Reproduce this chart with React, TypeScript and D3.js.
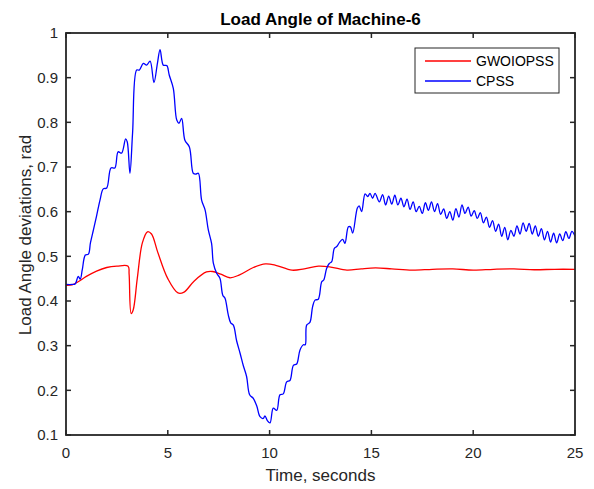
import React from "react";
import * as d3 from "d3";

const title = "Load Angle of Machine-6";
const xLabel = "Time, seconds";
const yLabel = "Load Angle deviations, rad";
const xTicks = [0, 5, 10, 15, 20, 25];
const yTicks = [0.1, 0.2, 0.3, 0.4, 0.5, 0.6, 0.7, 0.8, 0.9, 1];
const seriesNames = ["GWOIOPSS", "CPSS"];
const seriesColors = ["#ff0000", "#0000ff"];

const gwoTime = [0, 0.3, 0.6, 1.0, 1.5, 2.0, 2.5, 3.05, 3.1, 3.2, 3.3, 3.5, 3.75, 4.0, 4.2, 4.5, 5.0, 5.5, 5.8, 6.3, 6.9, 7.2, 7.6, 8.05, 8.5, 9.2, 9.8, 10.3, 11.1, 11.7, 12.4, 13.0, 13.8, 14.5, 15.2, 16, 17, 18, 19, 20, 21, 22, 23, 24, 25];
const gwoValue = [0.435, 0.436, 0.443, 0.455, 0.467, 0.475, 0.478, 0.478, 0.46, 0.372, 0.38, 0.45, 0.53, 0.555, 0.55, 0.51, 0.45, 0.418, 0.42, 0.445, 0.465, 0.466, 0.46, 0.452, 0.458, 0.475, 0.483, 0.48, 0.469, 0.472, 0.478, 0.476, 0.469, 0.472, 0.474, 0.472, 0.469, 0.471, 0.472, 0.469, 0.471, 0.472, 0.47, 0.471, 0.471];

const cpssTime = [0, 0.3, 0.45, 0.6, 0.7, 0.8, 0.95, 1.1, 1.2, 1.35, 1.5, 1.67, 1.83, 2.0, 2.21, 2.4, 2.56, 2.73, 2.93, 3.01, 3.14, 3.27, 3.47, 3.6, 3.8, 3.96, 4.13, 4.32, 4.49, 4.62, 4.78, 4.95, 5.07, 5.27, 5.44, 5.55, 5.68, 5.84, 6.06, 6.25, 6.37, 6.5, 6.66, 6.83, 6.99, 7.15, 7.24, 7.4, 7.56, 7.7, 7.81, 7.97, 8.09, 8.22, 8.38, 8.55, 8.71, 8.87, 9.02, 9.2, 9.37, 9.53, 9.69, 9.77, 9.89, 10.02, 10.18, 10.35, 10.51, 10.67, 10.84, 11.0, 11.17, 11.33, 11.49, 11.66, 11.75, 11.82, 11.98, 12.11, 12.23, 12.39, 12.56, 12.66, 12.8, 12.93, 13.05, 13.18, 13.3, 13.46, 13.59, 13.7, 13.87, 13.97, 14.08, 14.31, 14.4, 14.52, 14.69, 14.82, 14.93, 15.06, 15.18, 15.39, 15.55, 15.7, 15.85, 16.0, 16.15, 16.3, 16.45, 16.6, 16.75, 16.9, 17.05, 17.2, 17.35, 17.5, 17.65, 17.8, 17.95, 18.1, 18.25, 18.4, 18.55, 18.7, 18.85, 19.0, 19.15, 19.3, 19.45, 19.6, 19.75, 19.9, 20.05, 20.2, 20.35, 20.5, 20.65, 20.8, 20.95, 21.1, 21.25, 21.4, 21.55, 21.7, 21.85, 22.0, 22.15, 22.3, 22.45, 22.6, 22.75, 22.9, 23.05, 23.2, 23.35, 23.5, 23.65, 23.8, 23.95, 24.1, 24.25, 24.4, 24.55, 24.7, 24.85, 25.0];
const cpssValue = [0.437, 0.437, 0.438, 0.455, 0.449, 0.47, 0.503, 0.505, 0.53, 0.56, 0.59, 0.626, 0.651, 0.653, 0.698, 0.698, 0.734, 0.731, 0.763, 0.756, 0.686, 0.776, 0.917, 0.917, 0.932, 0.928, 0.937, 0.889, 0.932, 0.963, 0.928, 0.927, 0.906, 0.876, 0.805, 0.798, 0.809, 0.76, 0.745, 0.686, 0.684, 0.686, 0.626, 0.604, 0.559, 0.529, 0.484, 0.462, 0.451, 0.413, 0.406, 0.369, 0.351, 0.346, 0.311, 0.283, 0.255, 0.231, 0.19, 0.182, 0.165, 0.141, 0.137, 0.143, 0.132, 0.127, 0.16, 0.155, 0.19, 0.192, 0.219, 0.222, 0.256, 0.259, 0.29, 0.302, 0.302, 0.346, 0.352, 0.387, 0.402, 0.404, 0.443, 0.447, 0.473, 0.484, 0.488, 0.518, 0.522, 0.533, 0.538, 0.529, 0.566, 0.566, 0.552, 0.608, 0.613, 0.6, 0.64, 0.634, 0.641, 0.63, 0.641, 0.622, 0.638, 0.615, 0.635, 0.617, 0.637, 0.615, 0.63, 0.611, 0.628, 0.605, 0.622, 0.6, 0.612, 0.596, 0.62, 0.603, 0.622, 0.6, 0.618, 0.594, 0.606, 0.585, 0.6, 0.581, 0.607, 0.588, 0.615, 0.596, 0.61, 0.59, 0.602, 0.585, 0.598, 0.575, 0.588, 0.565, 0.58, 0.556, 0.572, 0.545, 0.565, 0.537, 0.558, 0.545, 0.568, 0.55, 0.575, 0.556, 0.574, 0.55, 0.568, 0.545, 0.562, 0.537, 0.556, 0.532, 0.552, 0.53, 0.55, 0.535, 0.555, 0.54, 0.556, 0.545];

const W = 594;
const H = 489;
const M = { left: 66, right: 575, top: 33, bottom: 435 };
const axisColor = "#262626";
const font = "Arial, 'Liberation Sans', sans-serif";

export default function App() {
  const x = d3.scaleLinear().domain([0, 25]).range([M.left, M.right]);
  const y = d3.scaleLinear().domain([0.1, 1]).range([M.bottom, M.top]);
  const line = d3
    .line<[number, number]>()
    .x((d) => x(d[0]))
    .y((d) => y(d[1]))
    .curve(d3.curveCatmullRom.alpha(0.5));
  const gwo = gwoTime.map((t, i) => [t, gwoValue[i]] as [number, number]);
  const cpss = cpssTime.map((t, i) => [t, cpssValue[i]] as [number, number]);
  const series = [gwo, cpss];
  const tickLen = 5;
  const leg = { x: 415, y: 48, w: 144, h: 45 };

  return (
    <svg
      width={W}
      height={H}
      style={{ position: "absolute", left: 0, top: 0, background: "#fff" }}
      fontFamily={font}
    >
      <rect x={0} y={0} width={W} height={H} fill="#fff" />
      <defs>
        <clipPath id="plotClip">
          <rect x={M.left} y={M.top} width={M.right - M.left} height={M.bottom - M.top} />
        </clipPath>
      </defs>
      <g clipPath="url(#plotClip)">
        {series.map((s, i) => (
          <path key={i} d={line(s) || ""} fill="none" stroke={seriesColors[i]} strokeWidth={1.3} strokeLinejoin="round" />
        ))}
      </g>
      <rect
        x={M.left}
        y={M.top}
        width={M.right - M.left}
        height={M.bottom - M.top}
        fill="none"
        stroke={axisColor}
        strokeWidth={1.8}
      />
      {xTicks.map((t) => (
        <g key={"xt" + t}>
          <line x1={x(t)} x2={x(t)} y1={M.bottom} y2={M.bottom - tickLen} stroke={axisColor} strokeWidth={1.5} />
          <line x1={x(t)} x2={x(t)} y1={M.top} y2={M.top + tickLen} stroke={axisColor} strokeWidth={1.5} />
          <text x={x(t)} y={M.bottom + 23} textAnchor="middle" fontSize={15} fill={axisColor}>
            {t}
          </text>
        </g>
      ))}
      {yTicks.map((t) => (
        <g key={"yt" + t}>
          <line x1={M.left} x2={M.left + tickLen} y1={y(t)} y2={y(t)} stroke={axisColor} strokeWidth={1.5} />
          <line x1={M.right} x2={M.right - tickLen} y1={y(t)} y2={y(t)} stroke={axisColor} strokeWidth={1.5} />
          <text x={58} y={y(t)} dy="0.35em" textAnchor="end" fontSize={15} fill={axisColor}>
            {t}
          </text>
        </g>
      ))}
      <text x={(M.left + M.right) / 2} y={25} textAnchor="middle" fontSize={17} fontWeight="bold" fill="#000">
        {title}
      </text>
      <text x={(M.left + M.right) / 2} y={481} textAnchor="middle" fontSize={17} fill={axisColor}>
        {xLabel}
      </text>
      <text
        transform={`translate(30.5, ${(133 + 337) / 2}) rotate(-90)`}
        textAnchor="middle"
        fontSize={17}
        fill={axisColor}
      >
        {yLabel}
      </text>
      <rect x={leg.x} y={leg.y} width={leg.w} height={leg.h} fill="#fff" stroke={axisColor} strokeWidth={1} />
      {seriesNames.map((n, i) => (
        <g key={n}>
          <line x1={425} x2={471} y1={61 + i * 20} y2={61 + i * 20} stroke={seriesColors[i]} strokeWidth={1.3} />
          <text x={476} y={61 + i * 20} dy="0.35em" fontSize={14} fill="#000">
            {n}
          </text>
        </g>
      ))}
    </svg>
  );
}
